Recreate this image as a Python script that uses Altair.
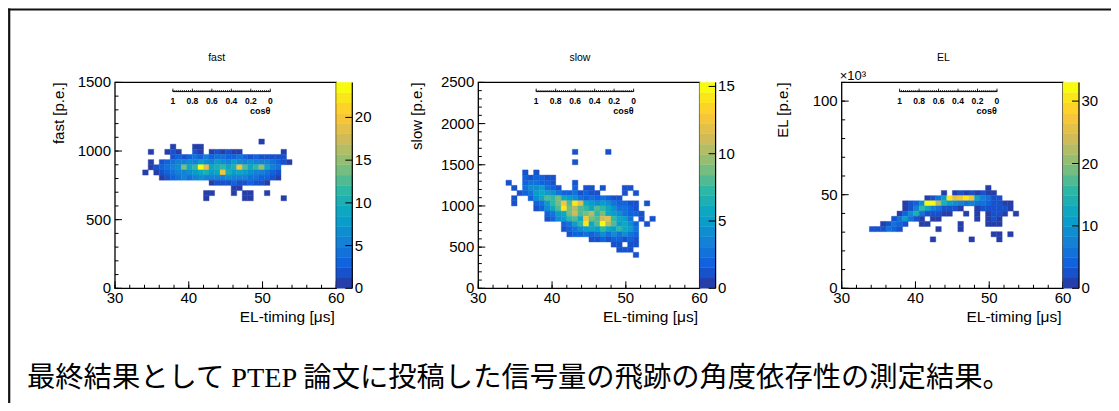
import altair as alt
import numpy as np
import pandas as pd

# ---------------- data ----------------
# 2-D histograms: 40 bins of 0.75 us on x (30-60 us), 40 bins on y.
# Each string is one y-bin row (top row first); characters are bin contents
# in base 36 ('.' = empty), first character = x-bin index FIRST_COL.
X_MIN, X_MAX, X_BIN = 30.0, 60.0, 0.75
FIRST_COL = 5

FAST_TOP, FAST_YBIN = 28, 37.5
FAST_ROWS = [
    ".....................1.....",
    ".....1...11................",
    ".1..121..21.121211.......1.",
    ".....232343534433432322222.",
    ".1.234567687687687675654321",
    ".123467e9boj9ac9akd9cf964..",
    "1.123456789a89ka898765432..",
    "...1234546756567565443321..",
    "............12223223221....",
    "................11.........",
    "...........11...1.11..1....",
    "...........1......11.....1.",
]

SLOW_TOP, SLOW_YBIN = 26, 62.5
SLOW_ROWS = [
    "............1.....1........",
    "...........................",
    "............1..............",
    "...........................",
    "...1.1.....................",
    "...212211..................",
    "1..233221...1..............",
    ".1.3445321..2.11.1...11....",
    "..123565432231211....1.1...",
    ".1..24687965432323211......",
    ".1...23579d8ec6545432211.1.",
    ".....12468e9a87687643321...",
    ".......23569b89a796543221..",
    ".......1245786d98bc7653.1.1",
    "..........2357e68fa85642.1.",
    "..........12345657657653...",
    "...........1223234343432...",
    "...............112122121...",
    "...................11.11...",
    "....................111....",
    ".......................1...",
]

EL_TOP, EL_YBIN = 19, 2.75   # EL in units of 10^3 p.e.
EL_ROWS = [
    ".....................1.....",
    ".............1.12121211....",
    "..........136auprvsc8532...",
    "......1249xwmeb97686543211.",
    "......138gc853221..1233221.",
    ".....149e532211..1.1.1231.1",
    "....25a621.11......1.121...",
    "..13642..11.....1....111...",
    "223542......1...1..........",
    "......................11.1.",
    "...........1......1....1...",
]

PANEL_TITLES = ["fast", "slow", "EL"]
Y_TITLES = ["fast [p.e.]", "slow [p.e.]", "EL [p.e.]"]
Y_MAXES = [1500, 2500, 110]
Z_MAXES = [24.1, 15.3, 33.0]
Y_LABELS = [[0, 500, 1000, 1500], [0, 500, 1000, 1500, 2000, 2500], [0, 50, 100]]
Y_MINOR_STEP = [100, 100, 10]
Z_LABELS = [[0, 5, 10, 15, 20], [0, 5, 10, 15], [0, 10, 20, 30]]
X_LABELS = [30, 40, 50, 60]
X_MINOR_STEP = 2
X_TITLE = "EL-timing [μs]"
COS_LABELS = [1, 0.8, 0.6, 0.4, 0.2, 0]
COS_MINOR_STEP = 0.02
COS_T1, COS_T0 = 37.85, 51.05   # EL-timing at cos(theta)=1 and cos(theta)=0
EL_EXPONENT = "×10³"
CAPTION = "最終結果として PTEP 論文に投稿した信号量の飛跡の角度依存性の測定結果。"

# ---------------- style / layout ----------------
W, H = 1103, 395
PLOT_LEFT = [107.0, 470.3, 833.7]
PLOT_W = 221.3
TOP, BOTTOM = 74.4, 280.3
CB_W = 16
YTITLE_OFF = [56, 61, 59]
FONT = "Liberation Sans"
LABEL_SIZE = 15
N_BANDS = 20
BIRD_R = [0.2082, 0.0592, 0.0780, 0.0232, 0.1802, 0.5301, 0.8186, 0.9956, 0.9764]
BIRD_G = [0.1664, 0.3599, 0.5041, 0.6419, 0.7178, 0.7492, 0.7328, 0.7862, 0.9832]
BIRD_B = [0.5293, 0.8684, 0.8385, 0.7914, 0.6425, 0.4662, 0.3499, 0.1968, 0.0539]


def bird_bands(n):
    stops = np.linspace(0, 1, len(BIRD_R))
    cols = []
    for k in range(n):
        t = min(1.0, (k + 0.99) / n)
        rgb = [int(round(np.interp(t, stops, c) * 255)) for c in (BIRD_R, BIRD_G, BIRD_B)]
        cols.append("#%02x%02x%02x" % tuple(rgb))
    return cols


BANDS = bird_bands(N_BANDS)


def decode(rows, top, ybin):
    recs = []
    for r, s in enumerate(rows):
        j = top - r
        for k, ch in enumerate(s):
            if ch == ".":
                continue
            i = FIRST_COL + k
            recs.append({"x0": X_MIN + i * X_BIN, "x1": X_MIN + (i + 1) * X_BIN,
                         "y0": j * ybin, "y1": (j + 1) * ybin, "n": int(ch, 36)})
    return pd.DataFrame(recs)


HISTS = [decode(FAST_ROWS, FAST_TOP, FAST_YBIN),
         decode(SLOW_ROWS, SLOW_TOP, SLOW_YBIN),
         decode(EL_ROWS, EL_TOP, EL_YBIN)]

ONE = pd.DataFrame({"d": [0]})


def xd(v, sc):
    return alt.XDatum(v, type="quantitative", scale=sc, axis=None)


def yd(v, sc):
    return alt.YDatum(v, type="quantitative", scale=sc, axis=None)


def text_mark(**kw):
    base = dict(font=FONT, color="black", fontSize=LABEL_SIZE, baseline="middle", align="center")
    base.update(kw)
    return base


def panel_layers(p):
    L = PLOT_LEFT[p]
    R = L + PLOT_W
    ymax, zmax = Y_MAXES[p], Z_MAXES[p]
    xs = alt.Scale(domain=[X_MIN, X_MAX], range=[L, R], nice=False, zero=False)
    ys = alt.Scale(domain=[0, ymax], range=[BOTTOM, TOP], nice=False, zero=False)
    cs = alt.Scale(type="quantize", domain=[0, zmax], range=BANDS, nice=False)
    cbx = alt.Scale(domain=[0, 1], range=[R, R + CB_W], nice=False, zero=False)
    cby = alt.Scale(domain=[0, zmax], range=[BOTTOM, TOP], nice=False, zero=False)
    out = []

    # histogram cells
    out.append(alt.Chart(HISTS[p]).mark_rect(strokeWidth=0.4).encode(
        x=alt.X("x0:Q", scale=xs, axis=None), x2="x1:Q",
        y=alt.Y("y0:Q", scale=ys, axis=None), y2="y1:Q",
        color=alt.Color("n:Q", scale=cs, legend=None),
        stroke=alt.Stroke("n:Q", scale=cs, legend=None)))

    # frame
    out.append(alt.Chart(ONE).mark_rect(fillOpacity=0, stroke="black", strokeWidth=1.3).encode(
        x=xd(X_MIN, xs), x2=alt.X2Datum(X_MAX), y=yd(0, ys), y2=alt.Y2Datum(ymax)))

    # x ticks (inward)
    xmaj = pd.DataFrame({"v": X_LABELS, "lab": [str(v) for v in X_LABELS]})
    xmin = pd.DataFrame({"v": np.arange(X_MIN, X_MAX + 1e-6, X_MINOR_STEP)})
    for d, size in [(xmaj, 7), (xmin, 3.5)]:
        out.append(alt.Chart(d).mark_rule(color="black", strokeWidth=1, y2Offset=-size).encode(
            x=alt.X("v:Q", scale=xs, axis=None), y=yd(0, ys), y2=alt.Y2Datum(0)))
    # y ticks (inward)
    ymaj = pd.DataFrame({"v": Y_LABELS[p], "lab": [str(v) for v in Y_LABELS[p]]})
    ymin = pd.DataFrame({"v": np.arange(0, ymax + 1e-6, Y_MINOR_STEP[p])})
    for d, size in [(ymaj, 7), (ymin, 3.5)]:
        out.append(alt.Chart(d).mark_rule(color="black", strokeWidth=1, x2Offset=size).encode(
            y=alt.Y("v:Q", scale=ys, axis=None), x=xd(X_MIN, xs), x2=alt.X2Datum(X_MIN)))

    # tick labels
    out.append(alt.Chart(xmaj).mark_text(**text_mark(yOffset=10)).encode(
        x=alt.X("v:Q", scale=xs, axis=None), y=yd(0, ys), text="lab:N"))
    out.append(alt.Chart(ymaj).mark_text(**text_mark(align="right", xOffset=-4)).encode(
        y=alt.Y("v:Q", scale=ys, axis=None), x=xd(X_MIN, xs), text="lab:N"))

    # titles
    out.append(alt.Chart(ONE).mark_text(**text_mark(align="right", fontSize=15.5, xOffset=-1.5, yOffset=29)).encode(
        x=xd(X_MAX, xs), y=yd(0, ys), text=alt.value(X_TITLE)))
    out.append(alt.Chart(ONE).mark_text(**text_mark(align="right", angle=270, fontSize=15,
                                                    xOffset=-YTITLE_OFF[p], yOffset=0)).encode(
        x=xd(X_MIN, xs), y=yd(ymax, ys), text=alt.value(Y_TITLES[p])))
    out.append(alt.Chart(ONE).mark_text(**text_mark(fontSize=10.5, xOffset=-9, yOffset=-24.4)).encode(
        x=xd((X_MIN + X_MAX) / 2, xs), y=yd(ymax, ys), text=alt.value(PANEL_TITLES[p])))

    # secondary cos(theta) axis inside the frame
    cos_off = 9.2
    cmaj = pd.DataFrame({"c": COS_LABELS})
    cmaj["t"] = COS_T0 - cmaj["c"] * (COS_T0 - COS_T1)
    cmaj["lab"] = [f"{c:g}" for c in COS_LABELS]
    cmin = pd.DataFrame({"c": np.arange(0, 1 + 1e-6, COS_MINOR_STEP)})
    cmin["t"] = COS_T0 - cmin["c"] * (COS_T0 - COS_T1)
    out.append(alt.Chart(ONE).mark_rule(color="black", strokeWidth=1, yOffset=cos_off).encode(
        x=xd(COS_T1, xs), x2=alt.X2Datum(COS_T0), y=yd(ymax, ys)))
    for d, size in [(cmaj, 3), (cmin, 1.6)]:
        out.append(alt.Chart(d).mark_rule(color="black", strokeWidth=0.8, yOffset=cos_off,
                                          y2Offset=cos_off - size).encode(
            x=alt.X("t:Q", scale=xs, axis=None), y=yd(ymax, ys), y2=alt.Y2Datum(ymax)))
    out.append(alt.Chart(cmaj).mark_text(**text_mark(fontSize=8.5, fontWeight="bold", yOffset=18.2)).encode(
        x=alt.X("t:Q", scale=xs, axis=None), y=yd(ymax, ys), text="lab:N"))
    out.append(alt.Chart(ONE).mark_text(**text_mark(fontSize=9, fontWeight="bold", align="right",
                                                    yOffset=28.2)).encode(
        x=xd(COS_T0, xs), y=yd(ymax, ys), text=alt.value("cosθ")))

    # colour bar
    k = np.arange(N_BANDS)
    bands = pd.DataFrame({"lo": zmax * k / N_BANDS, "hi": zmax * (k + 1) / N_BANDS})
    bands["mid"] = (bands["lo"] + bands["hi"]) / 2
    out.append(alt.Chart(bands).mark_rect(strokeWidth=0.4).encode(
        x=xd(0, cbx), x2=alt.X2Datum(1),
        y=alt.Y("lo:Q", scale=cby, axis=None), y2="hi:Q",
        color=alt.Color("mid:Q", scale=cs, legend=None),
        stroke=alt.Stroke("mid:Q", scale=cs, legend=None)))
    out.append(alt.Chart(ONE).mark_rule(color="black", strokeWidth=1.2).encode(
        x=xd(1, cbx), y=yd(0, cby), y2=alt.Y2Datum(zmax)))
    zl = pd.DataFrame({"v": Z_LABELS[p], "lab": [str(v) for v in Z_LABELS[p]]})
    out.append(alt.Chart(zl).mark_rule(color="black", strokeWidth=1, x2Offset=-7).encode(
        y=alt.Y("v:Q", scale=cby, axis=None), x=xd(1, cbx), x2=alt.X2Datum(1)))
    out.append(alt.Chart(zl).mark_text(**text_mark(align="left", xOffset=2.5)).encode(
        y=alt.Y("v:Q", scale=cby, axis=None), x=xd(1, cbx), text="lab:N"))

    if p == 2:
        out.append(alt.Chart(ONE).mark_text(**text_mark(align="left", baseline="alphabetic",
                                                        fontSize=13, xOffset=-2, yOffset=-2.9)).encode(
            x=xd(X_MIN, xs), y=yd(ymax, ys), text=alt.value(EL_EXPONENT)))
    return out


layers = []
for p in range(3):
    layers += panel_layers(p)

# caption
cap = pd.DataFrame({"t": [CAPTION]})
layers.append(alt.Chart(cap).mark_text(font="Liberation Serif, Noto Sans CJK JP", fontSize=28.3,
                                       align="left", baseline="middle", color="black").encode(
    x=alt.value(19), y=alt.value(370.5), text="t:N"))

# outer box (top and left edges visible)
layers.append(alt.Chart(ONE).mark_rule(color="#111111", strokeWidth=2.2).encode(
    x=alt.value(0), x2=alt.value(W), y=alt.value(1.5)))
layers.append(alt.Chart(ONE).mark_rule(color="#111111", strokeWidth=2.2).encode(
    x=alt.value(1.2), y=alt.value(0.5), y2=alt.value(H)))

chart = alt.layer(*layers).resolve_scale(
    x="independent", y="independent", color="independent", stroke="independent"
).properties(width=W, height=H, autosize=alt.AutoSizeParams(type="none"), padding=0
).configure_view(stroke=None)

chart.save("out.html", embed_options={"renderer": "svg", "actions": False})
